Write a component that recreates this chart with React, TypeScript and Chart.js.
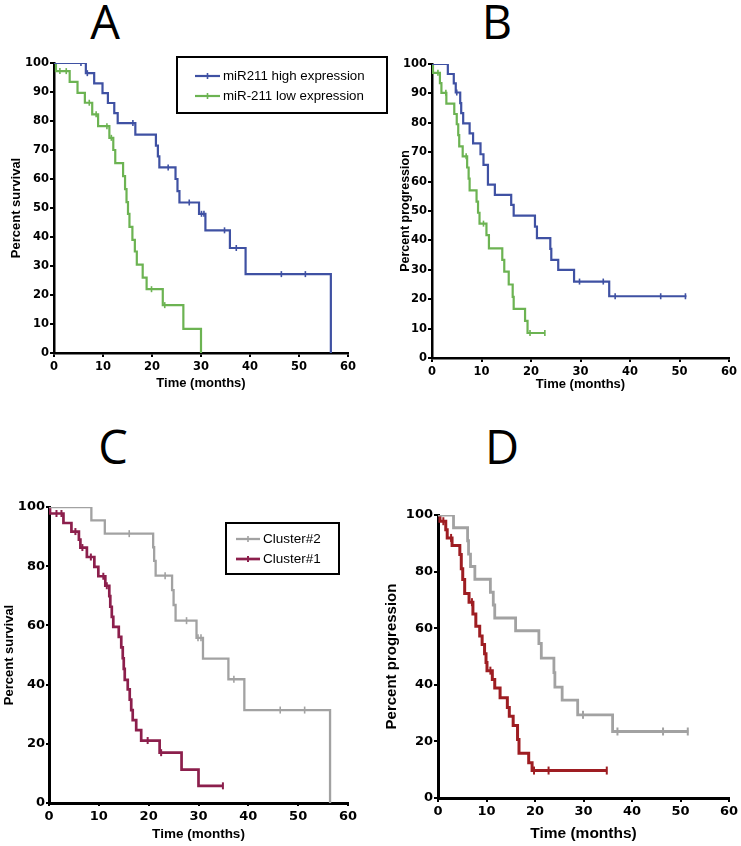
import React, { useEffect, useRef } from "react";
import { Chart, registerables } from "chart.js";

Chart.register(...registerables);

// ---------------- tick labels ----------------
const X_TICKS = [0, 10, 20, 30, 40, 50, 60];
const Y_TICKS_10 = [0, 10, 20, 30, 40, 50, 60, 70, 80, 90, 100];
const Y_TICKS_20 = [0, 20, 40, 60, 80, 100];

// ---------------- Panel A: overall survival, miR-211 ----------------
const aHighT = [0, 6.5, 8.2, 9.9, 11.0, 12.3, 13.0, 16.6, 20.8, 21.2, 21.5, 24.8, 25.2, 25.6, 29.6, 30.9, 35.9, 39.1, 56.5];
const aHighS = [100, 96.5, 93.0, 89.6, 86.2, 82.7, 79.3, 75.3, 71.5, 67.8, 64.0, 60.0, 55.8, 51.9, 48.0, 42.3, 36.2, 27.2, 0];
const aHighCensor = [5.5, 6.8, 16.1, 23.3, 27.6, 30.1, 30.6, 34.8, 37.2, 46.4, 51.3];

const aLowT = [0, 0.4, 3.2, 4.8, 6.3, 7.8, 9.0, 11.3, 12.1, 12.5, 14.1, 14.5, 14.8, 15.1, 15.4, 16.0, 16.5, 16.9, 18.1, 18.9, 22.2, 26.4, 30.0];
const aLowS = [100, 97.2, 93.5, 89.7, 86.3, 82.3, 78.2, 74.2, 70.0, 65.5, 61.0, 56.5, 52.0, 48.0, 43.5, 39.0, 35.0, 30.5, 26.0, 22.0, 16.5, 8.3, 0];
const aLowCensor = [1.2, 2.5, 7.2, 8.6, 10.8, 11.7, 19.9, 22.6];

// ---------------- Panel B: progression, miR-211 ----------------
const bHighT = [0, 3.2, 4.4, 4.8, 5.7, 5.9, 6.3, 7.6, 8.3, 9.8, 10.4, 11.3, 12.7, 16.0, 16.5, 20.8, 21.2, 23.9, 24.1, 25.5, 28.7, 35.8, 51.4];
const bHighS = [100, 96.6, 93.4, 90.3, 86.7, 83.3, 79.8, 76.4, 73.0, 69.3, 65.7, 59.0, 55.5, 52.1, 48.4, 44.7, 40.8, 37.1, 33.4, 30.0, 26.0, 21.0, 21.0];
const bHighCensor = [5.0, 29.8, 34.6, 37.0, 46.2, 51.2];

const bLowT = [0, 0.2, 1.6, 1.9, 2.9, 4.5, 5.0, 5.3, 5.5, 6.2, 7.1, 7.4, 7.6, 9.0, 9.3, 9.6, 11.0, 11.5, 14.2, 14.6, 15.5, 16.3, 16.5, 18.8, 19.3, 22.8];
const bLowS = [100, 97.0, 93.5, 90.2, 86.5, 83.0, 79.5, 75.8, 72.0, 68.6, 64.8, 61.0, 57.0, 53.2, 49.4, 45.7, 41.8, 37.3, 33.4, 29.4, 25.0, 20.8, 16.7, 12.6, 8.5, 8.5];
const bLowCensor = [1.2, 2.8, 6.9, 10.4, 19.8, 22.8];

// ---------------- Panel C: overall survival, clusters ----------------
const cC2T = [0, 8.5, 11.2, 20.9, 21.1, 21.4, 24.7, 25.0, 25.4, 29.6, 30.9, 36.0, 39.2, 56.4];
const cC2S = [100, 95.5, 91.0, 86.4, 81.8, 76.8, 71.9, 66.9, 61.6, 55.8, 48.8, 41.8, 31.4, 0];
const cC2Censor = [16.1, 23.3, 27.6, 29.9, 30.5, 37.1, 46.4, 51.3];

const cC1T = [0, 0.2, 2.9, 4.5, 6.0, 6.3, 7.6, 9.1, 9.9, 11.3, 12.1, 12.3, 12.6, 12.9, 14.0, 14.5, 14.8, 15.0, 15.2, 15.8, 16.2, 16.5, 16.8, 17.5, 18.5, 22.2, 26.6, 30.0, 34.9];
const cC1S = [100, 97.8, 94.6, 91.7, 89.0, 86.3, 83.1, 79.8, 76.6, 73.4, 69.9, 66.3, 62.9, 59.5, 56.1, 52.6, 48.9, 45.3, 41.6, 38.4, 34.9, 31.4, 28.0, 24.6, 21.1, 17.0, 11.3, 5.8, 5.8];
const cC1Censor = [1.5, 2.5, 5.3, 6.7, 8.4, 10.9, 11.6, 19.8, 22.5, 34.9];

// ---------------- Panel D: progression, clusters ----------------
const dC2T = [0, 3.2, 6.1, 6.3, 6.7, 7.6, 10.8, 11.4, 11.7, 16.0, 20.8, 21.3, 23.9, 24.1, 25.6, 28.8, 36.0, 51.6];
const dC2S = [100, 95.5, 90.9, 86.2, 81.8, 77.3, 72.7, 68.2, 63.6, 59.1, 54.6, 49.4, 44.3, 39.2, 34.6, 29.4, 23.5, 23.5];
const dC2Censor = [29.9, 37.0, 46.4, 51.5];

const dC1T = [0, 0.4, 1.6, 1.9, 2.9, 4.5, 4.8, 5.1, 5.5, 6.4, 7.2, 7.8, 8.6, 9.1, 9.6, 9.9, 10.1, 11.2, 11.7, 12.8, 14.3, 14.7, 15.5, 16.4, 16.7, 18.7, 19.4, 34.8];
const dC1S = [100, 97.8, 94.8, 91.9, 89.2, 86.0, 81.0, 77.2, 72.3, 69.2, 65.0, 60.7, 57.2, 54.2, 51.0, 47.9, 45.0, 41.9, 38.9, 35.4, 32.0, 28.9, 25.6, 20.7, 15.8, 12.5, 9.7, 9.7];
const dC1Censor = [1.1, 2.7, 7.0, 10.8, 19.8, 22.8, 34.8];

// ---------------- colours ----------------
const BLUE = "#3f51a3";
const GREEN = "#6cb352";
const GRAY = "#a2a2a2";
const MAROON = "#8c1f4c";
const DARKRED = "#9e1d22";

type Series = {
  label: string;
  t: number[];
  s: number[];
  censor: number[];
  color: string;
  width: number;
  tickW: number;
};

type LegendSpec = {
  x: number; y: number; w: number; h: number;
  rows: number[]; lineX0: number; lineX1: number; textX: number;
  font: string; items: Series[];
} | null;

type PanelSpec = {
  key: string;
  left: number; top: number; w: number; h: number;
  yW: number; xH: number; padTop: number; padRight: number;
  yTicks: number[];
  yTitle: string;
  tickFont: number; titleFontY: number; titleFontX: number;
  yTitlePad: number; xTitlePad: number;
  tickLen: number; tickPadX: number; tickPadY: number;
  axisW: number; censorR: number;
  series: Series[];
  legend: LegendSpec;
};

const sA: Series[] = [
  { label: "miR211 high expression", t: aHighT, s: aHighS, censor: aHighCensor, color: BLUE, width: 2.2, tickW: 1.6 },
  { label: "miR-211 low expression", t: aLowT, s: aLowS, censor: aLowCensor, color: GREEN, width: 2.2, tickW: 1.6 },
];
const sB: Series[] = [
  { label: "miR211 high expression", t: bHighT, s: bHighS, censor: bHighCensor, color: BLUE, width: 2.2, tickW: 1.6 },
  { label: "miR-211 low expression", t: bLowT, s: bLowS, censor: bLowCensor, color: GREEN, width: 2.2, tickW: 1.6 },
];
const sC: Series[] = [
  { label: "Cluster#2", t: cC2T, s: cC2S, censor: cC2Censor, color: GRAY, width: 2.3, tickW: 1.6 },
  { label: "Cluster#1", t: cC1T, s: cC1S, censor: cC1Censor, color: MAROON, width: 2.7, tickW: 2 },
];
const sD: Series[] = [
  { label: "Cluster#2", t: dC2T, s: dC2S, censor: dC2Censor, color: GRAY, width: 2.8, tickW: 2 },
  { label: "Cluster#1", t: dC1T, s: dC1S, censor: dC1Censor, color: DARKRED, width: 3, tickW: 2 },
];

const PANELS: PanelSpec[] = [
  {
    key: "A", left: 0, top: 55, w: 400, h: 345,
    yW: 54, xH: 47, padTop: 8, padRight: 52,
    yTicks: Y_TICKS_10, yTitle: "Percent survival",
    tickFont: 11.5, titleFontY: 13, titleFontX: 13, yTitlePad: 9, xTitlePad: 9,
    tickLen: 4, tickPadX: 3, tickPadY: 1, axisW: 2.5, censorR: 3,
    series: sA,
    legend: {
      x: 177, y: 2, w: 210, h: 56, rows: [21, 41], lineX0: 195, lineX1: 220, textX: 223,
      font: '13.3px "Liberation Sans", Arial, sans-serif', items: sA,
    },
  },
  {
    key: "B", left: 370, top: 55, w: 371, h: 345,
    yW: 62, xH: 42, padTop: 9, padRight: 12,
    yTicks: Y_TICKS_10, yTitle: "Percent progression",
    tickFont: 11.5, titleFontY: 12.5, titleFontX: 13, yTitlePad: 28, xTitlePad: 8,
    tickLen: 4, tickPadX: 3, tickPadY: 1, axisW: 2.5, censorR: 3,
    series: sB,
    legend: null,
  },
  {
    key: "C", left: 0, top: 495, w: 365, h: 351,
    yW: 49, xH: 43, padTop: 12, padRight: 17,
    yTicks: Y_TICKS_20, yTitle: "Percent survival",
    tickFont: 13, titleFontY: 13, titleFontX: 13.5, yTitlePad: 2, xTitlePad: 4,
    tickLen: 3, tickPadX: 3, tickPadY: 1, axisW: 3, censorR: 3.5,
    series: sC,
    legend: {
      x: 226, y: 28, w: 113, h: 51, rows: [44, 64], lineX0: 236, lineX1: 260, textX: 263,
      font: '13.5px "Liberation Sans", Arial, sans-serif', items: sC,
    },
  },
  {
    key: "D", left: 370, top: 495, w: 371, h: 351,
    yW: 68, xH: 48, padTop: 20, padRight: 12,
    yTicks: Y_TICKS_20, yTitle: "Percent progression",
    tickFont: 13, titleFontY: 15, titleFontX: 15.5, yTitlePad: 13, xTitlePad: 3,
    tickLen: 4, tickPadX: 2, tickPadY: 1, axisW: 3, censorR: 4,
    series: sD,
    legend: null,
  },
];

const LETTERS = [
  { text: "A", cx: 105, top: -2 },
  { text: "B", cx: 497, top: -2 },
  { text: "C", cx: 113, top: 423 },
  { text: "D", cx: 502, top: 423 },
];

function levelAt(t: number[], s: number[], x: number): number {
  let v = s[0];
  for (let i = 0; i < t.length; i++) if (t[i] <= x) v = s[i];
  return v;
}

function legendPlugin(lg: LegendSpec) {
  return {
    id: "legendBox",
    afterDraw(chart: any) {
      if (!lg) return;
      const ctx = chart.ctx as CanvasRenderingContext2D;
      ctx.save();
      ctx.strokeStyle = "#000";
      ctx.lineWidth = 2;
      ctx.strokeRect(lg.x, lg.y, lg.w, lg.h);
      ctx.font = lg.font;
      ctx.textBaseline = "middle";
      ctx.textAlign = "left";
      lg.items.forEach((it, i) => {
        const cy = lg.rows[i];
        ctx.strokeStyle = it.color;
        ctx.lineWidth = it.width;
        ctx.beginPath();
        ctx.moveTo(lg.lineX0, cy);
        ctx.lineTo(lg.lineX1, cy);
        ctx.stroke();
        const mx = (lg.lineX0 + lg.lineX1) / 2;
        ctx.lineWidth = it.tickW;
        ctx.beginPath();
        ctx.moveTo(mx, cy - 3);
        ctx.lineTo(mx, cy + 3);
        ctx.stroke();
        ctx.fillStyle = "#000";
        ctx.fillText(it.label, lg.textX, cy + 0.5);
      });
      ctx.restore();
    },
  };
}

function buildChart(canvas: HTMLCanvasElement, p: PanelSpec) {
  const datasets: any[] = [];
  p.series.forEach((se) => {
    datasets.push({
      label: se.label,
      data: se.t.map((x, i) => ({ x, y: se.s[i] })),
      showLine: true,
      stepped: "before",
      borderColor: se.color,
      backgroundColor: se.color,
      borderWidth: se.width,
      pointRadius: 0,
      fill: false,
    });
    datasets.push({
      label: se.label + " censored",
      data: se.censor.map((x) => ({ x, y: levelAt(se.t, se.s, x) })),
      showLine: false,
      pointStyle: "line",
      pointRadius: p.censorR,
      pointRotation: 90,
      pointBorderWidth: se.tickW,
      borderColor: se.color,
      pointBorderColor: se.color,
      backgroundColor: se.color,
    });
  });

  const tickFont = { family: '"DejaVu Sans", Verdana, sans-serif', weight: "bold" as const, size: p.tickFont };
  const zeroPad = (sc: any) => {
    sc.paddingLeft = 0; sc.paddingRight = 0; sc.paddingTop = 0; sc.paddingBottom = 0;
  };

  return new Chart(canvas, {
    type: "scatter",
    data: { datasets },
    options: {
      animation: false,
      responsive: false,
      maintainAspectRatio: false,
      devicePixelRatio: 1,
      events: [],
      layout: { padding: { left: 0, top: p.padTop, right: p.padRight, bottom: 0 } },
      plugins: { legend: { display: false }, tooltip: { enabled: false } },
      scales: {
        x: {
          type: "linear",
          min: 0,
          max: 60,
          afterBuildTicks: (sc: any) => { sc.ticks = X_TICKS.map((v) => ({ value: v })); },
          afterFit: (sc: any) => { sc.height = p.xH; zeroPad(sc); },
          ticks: { font: tickFont, color: "#000", padding: p.tickPadX, maxRotation: 0, autoSkip: false },
          grid: { drawOnChartArea: false, drawTicks: true, tickLength: p.tickLen, color: "#000", lineWidth: 2 },
          border: { display: true, color: "#000", width: p.axisW },
          title: {
            display: true, text: "Time (months)", color: "#000",
            font: { family: '"Liberation Sans", Arial, sans-serif', weight: "bold", size: p.titleFontX },
            padding: { top: 0, bottom: p.xTitlePad },
          },
        },
        y: {
          type: "linear",
          min: 0,
          max: 100,
          afterBuildTicks: (sc: any) => { sc.ticks = p.yTicks.map((v) => ({ value: v })); },
          afterFit: (sc: any) => { sc.width = p.yW; zeroPad(sc); },
          ticks: { font: tickFont, color: "#000", padding: p.tickPadY, autoSkip: false },
          grid: { drawOnChartArea: false, drawTicks: true, tickLength: p.tickLen, color: "#000", lineWidth: 2 },
          border: { display: true, color: "#000", width: p.axisW },
          title: {
            display: true, text: p.yTitle, color: "#000",
            font: { family: '"Liberation Sans", Arial, sans-serif', weight: "bold", size: p.titleFontY },
            padding: { top: p.yTitlePad, bottom: 0 },
          },
        },
      },
    } as any,
    plugins: [legendPlugin(p.legend)],
  });
}

function Panel({ spec }: { spec: PanelSpec }) {
  const ref = useRef<HTMLCanvasElement | null>(null);
  useEffect(() => {
    if (!ref.current) return;
    const chart = buildChart(ref.current, spec);
    return () => chart.destroy();
  }, [spec]);
  return (
    <canvas
      ref={ref}
      width={spec.w}
      height={spec.h}
      style={{ position: "absolute", left: spec.left, top: spec.top, width: spec.w, height: spec.h }}
    />
  );
}

export default function App() {
  return (
    <div style={{ position: "absolute", left: 0, top: 0, width: 741, height: 846, background: "#fff", overflow: "hidden" }}>
      {LETTERS.map((l) => (
        <div
          key={l.text}
          style={{
            position: "absolute",
            left: l.cx,
            top: l.top,
            transform: "translateX(-50%)",
            fontFamily: '"Open Sans", sans-serif',
            fontSize: 47,
            lineHeight: 1,
            color: "#000",
          }}
        >
          {l.text}
        </div>
      ))}
      {PANELS.map((p) => (
        <Panel key={p.key} spec={p} />
      ))}
    </div>
  );
}
